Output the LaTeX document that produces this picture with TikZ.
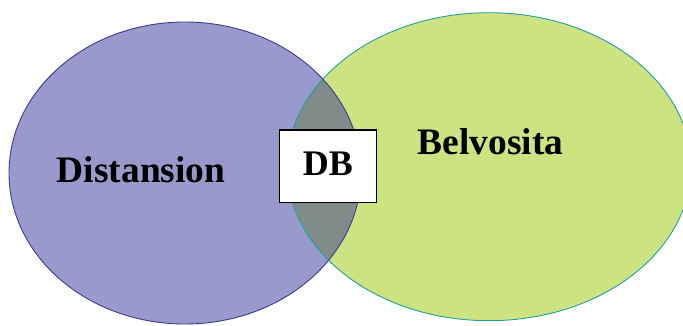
\documentclass[tikz,border=0pt]{standalone}
\usepackage{fontspec}
\setmainfont{Liberation Serif}
\definecolor{lfill}{RGB}{153,153,203}
\definecolor{lline}{RGB}{60,60,150}
\definecolor{rfill}{RGB}{205,227,129}
\definecolor{rline}{RGB}{30,160,165}
\definecolor{ifill}{RGB}{127,140,137}
\tikzset{
  lbl/.style={font=\fontsize{37.4}{40}\selectfont\bfseries, inner sep=0pt, anchor=base west},
  dbbox/.style={draw=black, line width=1.5pt, fill=white, minimum width=97pt, minimum height=72.7pt, inner sep=0pt,
    font=\fontsize{36}{40}\selectfont\bfseries, text height=24pt, text depth=6.7pt}
}
\begin{document}
\begin{tikzpicture}[x=1pt,y=1pt]
\useasboundingbox (0,0) rectangle (683,325);
\begin{scope}
\clip (0,0) rectangle (683,325);
\fill[rfill] (489,158.3) ellipse [x radius=202, y radius=154];
\fill[lfill] (185,152) ellipse [x radius=176, y radius=151];
\begin{scope}
\clip (489,158.3) ellipse [x radius=202, y radius=154];
\fill[ifill] (185,152) ellipse [x radius=176, y radius=151];
\end{scope}
\draw[rline, line width=0.9pt] (489,158.3) ellipse [x radius=202, y radius=154];
\draw[lline, line width=0.9pt] (185,152) ellipse [x radius=176, y radius=151];
\end{scope}
\node[lbl] (dist) at (56.7,142.3) {Distansion};
\node[lbl] (belv) at (417.7,170.7) {Belvosita};
\node[dbbox] (db) at (328,158.65) {DB};
\end{tikzpicture}
\end{document}
